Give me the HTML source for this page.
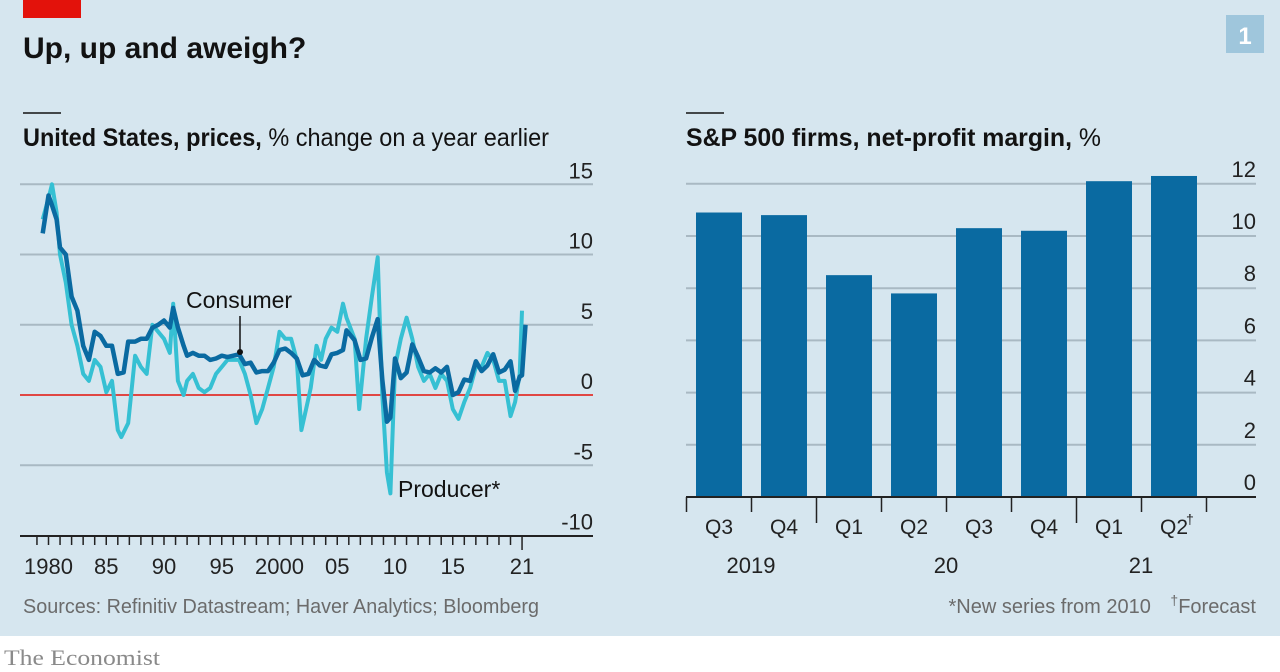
<!DOCTYPE html>
<html><head><meta charset="utf-8"><style>
body{margin:0;width:1280px;height:672px;overflow:hidden;background:#fff;font-family:"Liberation Sans",sans-serif}
#wrap{position:absolute;left:0;top:0;width:1280px;height:636px;background:#d6e6ef}
</style></head><body>
<div id="wrap">
<svg width="1280" height="672" style="position:absolute;left:0;top:0" id="svg">
<rect x="23" y="0" width="58" height="18" fill="#e3120b"/>
<text x="23" y="58" font-size="30" font-weight="bold" fill="#121212">Up, up and aweigh?</text>
<rect x="1226" y="15" width="38" height="38" fill="#9fc6dc"/>
<text x="1245" y="44" font-size="24" font-weight="bold" fill="#fff" text-anchor="middle">1</text>
<line x1="23" y1="113" x2="61" y2="113" stroke="#121212" stroke-width="1.5"/>
<text x="23" y="146" font-size="25" fill="#121212" textLength="526" lengthAdjust="spacingAndGlyphs"><tspan font-weight="bold">United States, prices,</tspan> % change on a year earlier</text>
<line x1="686" y1="113" x2="724" y2="113" stroke="#121212" stroke-width="1.5"/>
<text x="686" y="146" font-size="25" fill="#121212" textLength="415" lengthAdjust="spacingAndGlyphs"><tspan font-weight="bold">S&amp;P 500 firms, net-profit margin,</tspan> %</text>
<g id="left"></g><g id="right"></g>
<text x="23" y="613" font-size="20" fill="#6b6b6b" textLength="516" lengthAdjust="spacingAndGlyphs">Sources: Refinitiv Datastream; Haver Analytics; Bloomberg</text>
<text x="1256" y="613" font-size="20" fill="#6b6b6b" text-anchor="end">*New series from 2010 <tspan dx="14" dy="-8" font-size="14">†</tspan><tspan dy="8">Forecast</tspan></text>
<text x="4" y="665" font-size="22" fill="#8a8a8a" font-family="Liberation Serif,serif" textLength="156" lengthAdjust="spacingAndGlyphs">The Economist</text>
</svg></div>
<script>
// Left chart data (year, value)
const cpiYears=[1979.5,1980.0,1980.3,1980.7,1981.0,1981.5,1982.0,1982.5,1983.0,1983.5,1984.0,1984.5,1985.0,1985.5,1986.0,1986.5,1986.9,1987.5,1988.0,1988.5,1989.0,1989.5,1990.0,1990.5,1990.8,1991.2,1991.7,1992.0,1992.5,1993.0,1993.5,1994.0,1994.5,1995.0,1995.5,1996.0,1996.5,1997.0,1997.5,1998.0,1998.5,1999.0,1999.5,2000.0,2000.5,2001.0,2001.5,2002.0,2002.5,2003.0,2003.5,2004.0,2004.5,2005.0,2005.5,2005.8,2006.5,2007.0,2007.5,2008.0,2008.5,2008.9,2009.3,2009.6,2010.0,2010.5,2011.0,2011.5,2012.0,2012.5,2013.0,2013.5,2014.0,2014.5,2015.0,2015.5,2016.0,2016.5,2017.0,2017.5,2018.0,2018.5,2019.0,2019.5,2020.0,2020.4,2020.8,2021.0,2021.3];
const cpiVals=[11.5,14.2,13.5,12.5,10.5,10,7,6,3.5,2.5,4.5,4.2,3.5,3.5,1.5,1.6,3.8,3.8,4,4,4.8,5,5.3,4.8,6.2,4.8,3.5,2.8,3,2.8,2.8,2.5,2.6,2.8,2.7,2.8,2.9,2.2,2.3,1.6,1.7,1.7,2.3,3.2,3.3,3,2.6,1.4,1.5,2.5,2.1,2,2.9,3,3.2,4.6,3.9,2.5,2.6,4.1,5.4,1.1,-1.9,-1.6,2.6,1.2,1.6,3.6,2.7,1.7,1.6,1.9,1.6,2,0,0.2,1.1,1,2.4,1.7,2.1,2.9,1.6,1.8,2.4,0.3,1.3,1.4,5];
const ppiYears=[1979.5,1980.0,1980.3,1980.7,1981.0,1981.5,1982.0,1982.5,1983.0,1983.5,1984.0,1984.5,1985.0,1985.5,1986.0,1986.3,1986.9,1987.5,1988.0,1988.5,1989.0,1989.5,1990.0,1990.5,1990.8,1991.2,1991.7,1992.0,1992.5,1993.0,1993.5,1994.0,1994.5,1995.0,1995.5,1996.0,1996.5,1997.0,1997.5,1998.0,1998.5,1999.0,1999.5,2000.0,2000.5,2001.0,2001.5,2001.9,2002.3,2002.7,2003.2,2003.6,2004.0,2004.5,2005.0,2005.5,2005.8,2006.5,2006.9,2007.5,2008.0,2008.5,2008.9,2009.3,2009.6,2010.0,2010.5,2011.0,2011.5,2012.0,2012.5,2013.0,2013.5,2014.0,2014.5,2015.0,2015.5,2016.0,2016.5,2017.0,2017.5,2018.0,2018.5,2019.0,2019.5,2020.0,2020.4,2020.8,2021.0,2021.3];
const ppiVals=[12.5,14,15,13,10,8,5,3.5,1.5,1,2.5,2,0.2,1,-2.5,-3,-2,2.8,2,1.5,5,4.5,4,3,6.5,1,0,1,1.5,0.5,0.2,0.5,1.5,2,2.5,2.5,2.5,1.5,0,-2,-1,0.5,2,4.5,4,4,2.5,-2.5,-1,0.5,3.5,2.5,4,4.8,4.5,6.5,5.5,4,-1,4,7,9.8,0,-5.5,-7,2,4,5.5,4,2,1,1.5,0.5,1.5,1,-1,-1.7,-0.5,0.5,2,2,3,2.5,1,1,-1.5,-0.5,1.5,6];
const yTicks=[15,10,5,0,-5,-10];
const xTickLabels=["1980","85","90","95","2000","05","10","15","21"];
const xTickYears=[1980,1985,1990,1995,2000,2005,2010,2015,2021];
// Right chart data
const quarters=["Q3","Q4","Q1","Q2","Q3","Q4","Q1","Q2"];
const margins=[10.9,10.8,8.5,7.8,10.3,10.2,12.1,12.3];
const rTicks=[12,10,8,6,4,2,0];
const yearLabels=["2019","20","21"];

const NS="http://www.w3.org/2000/svg";
function mk(p,t,a,txt){const e=document.createElementNS(NS,t);for(const k in a)e.setAttribute(k,a[k]);if(txt!==undefined)e.textContent=txt;p.appendChild(e);return e;}
const L=document.getElementById('left'),R=document.getElementById('right');
const lx=y=>48.5+(y-1980)*11.55, ly=v=>395-v*14.05;
yTicks.forEach(t=>{
 if(t!==0&&t!==-10){const g=mk(L,'line',{x1:20,x2:593,y1:ly(t),y2:ly(t),stroke:'#a9b9c3','stroke-width':2});
 
 }
 const tx=mk(L,'text',{x:593,y:ly(t)-6,'font-size':22,fill:'#222','text-anchor':'end'},String(t));
 
 
});
const zl=mk(L,'line',{x1:20,x2:593,y1:ly(0),y2:ly(0),stroke:'#e3120b','stroke-width':1.5});


const ax=mk(L,'line',{x1:20,x2:593,y1:536,y2:536,stroke:'#222','stroke-width':2});


for(let y=1979;y<=2021;y++){const t=mk(L,'line',{x1:lx(y),x2:lx(y),y1:536,y2:y===2021?550:545,stroke:'#222','stroke-width':1.5});
 
 }
xTickLabels.forEach((s,i)=>{const t=mk(L,'text',{x:lx(xTickYears[i]),y:574,'font-size':22,fill:'#222','text-anchor':'middle'},s);
 
 });
function path(xs,vs){return xs.map((x,i)=>(i?'L':'M')+lx(x).toFixed(1)+' '+ly(vs[i]).toFixed(1)).join('');}
const pp=mk(L,'path',{d:path(ppiYears,ppiVals),fill:'none',stroke:'#36c0d3','stroke-width':4,'stroke-linejoin':'round'});


const cp=mk(L,'path',{d:path(cpiYears,cpiVals),fill:'none',stroke:'#0a6aa1','stroke-width':4.5,'stroke-linejoin':'round'});


const cl=mk(L,'line',{x1:240,x2:240,y1:316,y2:352,stroke:'#121212','stroke-width':1.5});


const cd=mk(L,'circle',{cx:240,cy:352,r:3,fill:'#121212'});


const ct=mk(L,'text',{x:186,y:308,'font-size':23,fill:'#121212'},'Consumer');


const pt=mk(L,'text',{x:398,y:497,'font-size':23,fill:'#121212'},'Producer*');



// right chart
const ry=v=>497-v*26.1;
rTicks.forEach(t=>{
 if(t!==0){const g=mk(R,'line',{x1:686,x2:1256,y1:ry(t),y2:ry(t),stroke:'#a9b9c3','stroke-width':2});
 
 }
 const tx=mk(R,'text',{x:1256,y:ry(t)-7,'font-size':22,fill:'#222','text-anchor':'end'},String(t));
 
 
});
margins.forEach((v,i)=>{const b=mk(R,'rect',{x:696+i*65,y:ry(v),width:46,height:ry(0)-ry(v),fill:'#0a6aa1'});
 
 
 const t=mk(R,'text',{x:719+i*65,y:534,'font-size':21,fill:'#222','text-anchor':'middle'},quarters[i]);
 
 
 if(i===7){const d=mk(R,'text',{x:731+i*65,y:524,'font-size':14,fill:'#222'},'†');
 
 }
});
const rax=mk(R,'line',{x1:686,x2:1256,y1:497,y2:497,stroke:'#222','stroke-width':2});


for(let i=0;i<=8;i++){const xx=686.5+i*65;const t=mk(R,'line',{x1:xx,x2:xx,y1:497,y2:(i===2||i===6)?523:512,stroke:'#222','stroke-width':1.5});
 
 }
[751,946,1141].forEach((x,i)=>{const t=mk(R,'text',{x:x,y:573,'font-size':22,fill:'#222','text-anchor':'middle'},yearLabels[i]);
 
 });
</script>
</body></html>
